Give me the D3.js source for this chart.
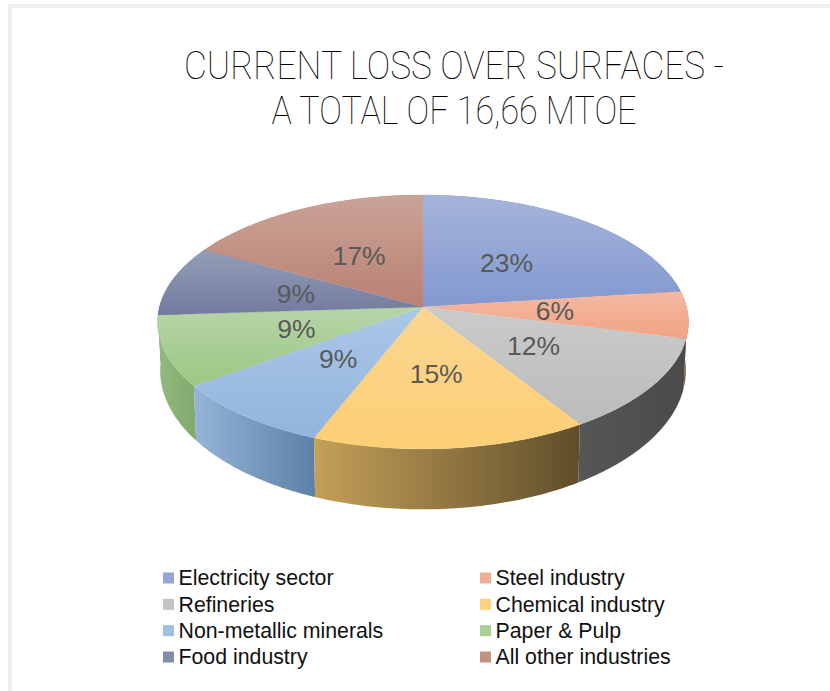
<!DOCTYPE html>
<html>
<head>
<meta charset="utf-8">
<script src="https://cdn.jsdelivr.net/npm/d3@7"></script>
<style>
  html, body { margin: 0; padding: 0; background: #fff; }
  svg { display: block; }
  .flat { opacity: 0.999; }
</style>
</head>
<body>
<svg id="chart" width="830" height="691"></svg>
<script>
// Industrial heat loss through surfaces, share per sector
const categories = ["Electricity sector", "Steel industry", "Refineries", "Chemical industry",
                    "Non-metallic minerals", "Paper & Pulp", "Food industry", "All other industries"];
const shares = [23, 6, 12, 15, 9, 9, 9, 17];
const titleLines = ["CURRENT LOSS OVER SURFACES -", "A TOTAL OF 16,66 MTOE"];

// Face shading: [far edge, near edge]
const faceColors = [["#a5b4da", "#8398d0"], ["#f3b9a2", "#f1a384"], ["#cbcbcb", "#bbbbbb"], ["#fbd690", "#fdcf75"],
                    ["#abc7e7", "#92b4dc"], ["#b7d5a8", "#9bc783"], ["#949db6", "#727b9f"], ["#caa397", "#b98173"]];
// Rim shading: [left end, right end]
const rimColors = [["#6c7ba6", "#5d6c98"], ["#8a5f4c", "#7a5240"], ["#565656", "#4a4a4a"], ["#c4a058", "#5f4e2b"],
                   ["#95b4d8", "#5c81a8"], ["#92bb7d", "#82a96d"], ["#7d86a0", "#727b96"], ["#a87a6c", "#9a6e60"]];
const legendColors = ["#95a6d5", "#f2ae94", "#c4c4c4", "#fcd280", "#a0bfe3", "#a9cf96", "#838cab", "#c1937f"];

const svg = d3.select("#chart");
const defs = svg.append("defs");

// Border of the chart area
svg.append("rect").attr("x", 0).attr("y", 0).attr("width", 830).attr("height", 691).attr("fill", "#fff");
svg.append("path").attr("d", "M10,691 V6 H830").attr("fill", "none").attr("stroke", "#eeeeee").attr("stroke-width", 4);

// Tilted disc: a circle seen in perspective, so the hub sits above the ellipse centre
const cx = 423, skew = -0.118;
const topRing = { r: 263.6, hub: 307, k: 125.2 };
const baseRing = { r: 261, hub: 354, k: 137 };
function project(ring, angle, f = 1) {
  const u = f * Math.sin(angle), v = -f * Math.cos(angle), d = 1 + skew * v;
  return [cx + ring.r * u / d, ring.hub + ring.k * v / d];
}

const slices = d3.pie().sort(null).value(d => d)(shares);
const arcPoints = (ring, s) => d3.range(0, 61).map(i =>
  project(ring, s.startAngle + (s.endAngle - s.startAngle) * i / 60));
const line = d3.line();

// Rim segments, far ones first so the near ones overlap them
const rimOrder = d3.range(slices.length).sort((a, b) =>
  project(topRing, (slices[a].startAngle + slices[a].endAngle) / 2)[1] -
  project(topRing, (slices[b].startAngle + slices[b].endAngle) / 2)[1]);

rimOrder.forEach(i => {
  const s = slices[i];
  const top = arcPoints(topRing, s), base = arcPoints(baseRing, s).reverse();
  const xs = top.concat(base).map(p => p[0]);
  const id = "rim" + i;
  const g = defs.append("linearGradient").attr("id", id).attr("gradientUnits", "userSpaceOnUse")
    .attr("x1", d3.min(xs)).attr("x2", d3.max(xs)).attr("y1", 0).attr("y2", 0);
  g.append("stop").attr("offset", 0).attr("stop-color", rimColors[i][0]);
  g.append("stop").attr("offset", 1).attr("stop-color", rimColors[i][1]);
  svg.append("path").attr("d", line(top.concat(base)) + "Z").attr("fill", `url(#${id})`);
});

// Top faces
slices.forEach((s, i) => {
  const id = "face" + i;
  const g = defs.append("linearGradient").attr("id", id).attr("x1", 0).attr("x2", 0).attr("y1", 0).attr("y2", 1);
  g.append("stop").attr("offset", 0).attr("stop-color", faceColors[i][0]);
  g.append("stop").attr("offset", 1).attr("stop-color", faceColors[i][1]);
  const hub = [cx, topRing.hub];
  svg.append("path").attr("d", line([hub].concat(arcPoints(topRing, s))) + "Z")
    .attr("fill", `url(#${id})`).attr("stroke", `url(#${id})`).attr("stroke-width", 0.3);
});

// Percentage labels, half way out along each slice's middle
const labels = svg.append("g").attr("class", "flat");
slices.forEach((s, i) => {
  const [x, y] = project(topRing, (s.startAngle + s.endAngle) / 2, 0.5);
  labels.append("text").attr("x", x).attr("y", y).attr("dy", "0.36em").attr("text-anchor", "middle")
    .attr("font-family", "'Liberation Sans', Arial, sans-serif").attr("font-size", 26.5).attr("fill", "#595959")
    .text(shares[i] + "%");
});

// Title
const title = svg.append("g").attr("class", "flat");
titleLines.forEach((t, i) => {
  title.append("text").attr("x", 454).attr("y", [79, 124][i]).attr("text-anchor", "middle")
    .attr("font-family", "Roboto, sans-serif").attr("font-weight", 100).attr("font-size", 38)
    .attr("fill", "#000").attr("textLength", [540, 365][i]).attr("lengthAdjust", "spacingAndGlyphs").text(t);
});

// Legend: two columns, four rows
const legendX = d3.scaleOrdinal().domain([0, 1]).range([163, 480]);
const legendY = d3.scalePoint().domain([0, 1, 2, 3]).range([577.5, 656.5]);
const legend = svg.append("g").attr("class", "flat");
categories.forEach((c, i) => {
  const col = i % 2, row = Math.floor(i / 2);
  legend.append("rect").attr("x", legendX(col)).attr("y", legendY(row) - 5).attr("width", 11).attr("height", 11)
    .attr("fill", legendColors[i]);
  legend.append("text").attr("x", legendX(col) + 15.5).attr("y", legendY(row)).attr("dy", "0.36em")
    .attr("font-family", "'Liberation Sans', Arial, sans-serif").attr("font-size", 21.3).attr("fill", "#111")
    .text(c);
});
</script>
</body>
</html>
